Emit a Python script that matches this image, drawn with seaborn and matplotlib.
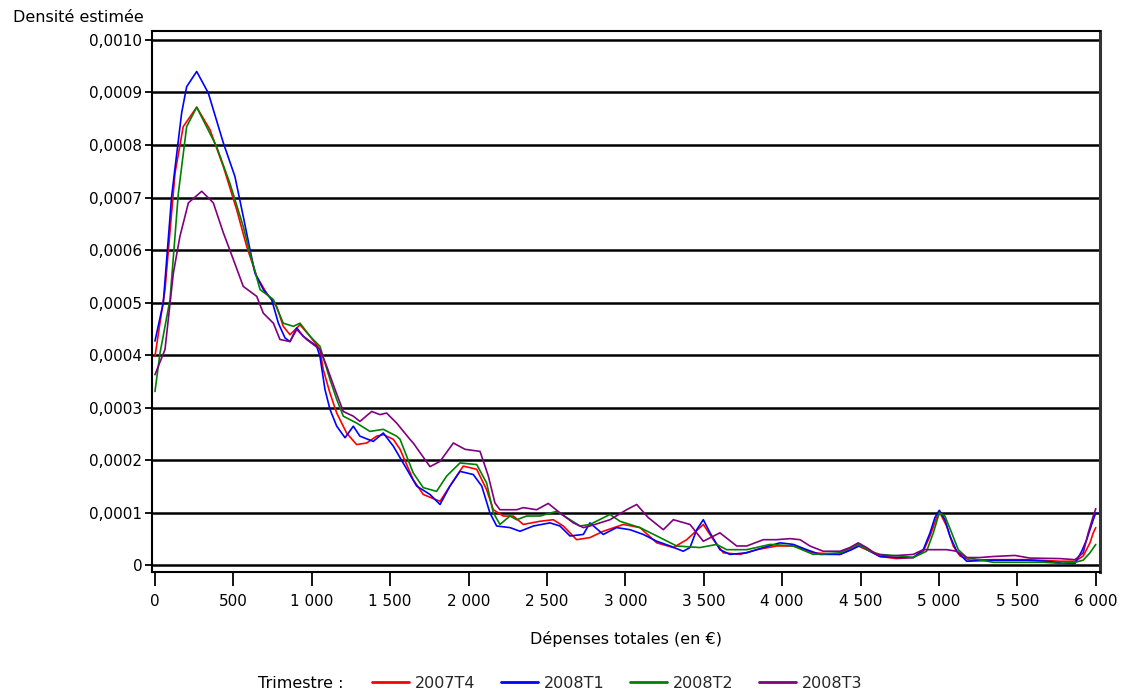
import matplotlib
matplotlib.use("Agg")
import matplotlib.pyplot as plt
from matplotlib.lines import Line2D
import numpy as np
import pandas as pd
import seaborn as sns

# Estimated density of total spending per quarter (density values in units of 1e-4 per euro)
x_2007T4 = [0, 64, 128, 180, 266, 351, 436, 521, 585, 649, 712, 776, 818, 861, 925, 989, 1052, 1073,
            1116, 1159, 1222, 1286, 1350, 1414, 1456, 1520, 1563, 1647, 1711, 1818, 1881, 1966, 2052,
            2115, 2158, 2221, 2285, 2349, 2455, 2540, 2604, 2689, 2774, 2859, 2987, 3093, 3200, 3306,
            3391, 3497, 3561, 3625, 3731, 3838, 3965, 4071, 4198, 4369, 4485, 4560, 4624, 4730, 4836,
            4900, 4943, 4985, 5006, 5049, 5091, 5134, 5198, 5347, 5559, 5772, 5868, 5920, 5963, 5984, 6000]
d_2007T4 = [3.98, 5.25, 7.47, 8.35, 8.72, 8.29, 7.59, 6.77, 6.07, 5.50, 5.18, 4.93, 4.55, 4.39, 4.58,
            4.36, 4.11, 3.73, 3.28, 2.90, 2.52, 2.30, 2.33, 2.46, 2.49, 2.40, 2.21, 1.63, 1.35, 1.22,
            1.51, 1.89, 1.83, 1.44, 1.06, 0.94, 0.94, 0.78, 0.84, 0.87, 0.75, 0.49, 0.53, 0.65, 0.78,
            0.72, 0.43, 0.34, 0.49, 0.78, 0.49, 0.24, 0.21, 0.30, 0.37, 0.37, 0.24, 0.21, 0.37, 0.27,
            0.17, 0.13, 0.15, 0.27, 0.56, 0.91, 1.00, 0.75, 0.37, 0.18, 0.10, 0.11, 0.11, 0.08, 0.08,
            0.18, 0.43, 0.62, 0.72]

x_2008T1 = [0, 53, 106, 170, 202, 266, 340, 436, 510, 563, 606, 638, 691, 744, 787, 829, 861, 904, 946,
            1031, 1052, 1084, 1116, 1159, 1212, 1265, 1307, 1392, 1456, 1520, 1563, 1669, 1754, 1818,
            1881, 1945, 2030, 2084, 2136, 2179, 2264, 2328, 2413, 2519, 2583, 2647, 2732, 2774, 2859,
            2944, 3029, 3114, 3200, 3285, 3369, 3412, 3455, 3497, 3540, 3603, 3667, 3774, 3880, 3986,
            4071, 4156, 4241, 4369, 4443, 4496, 4560, 4624, 4730, 4836, 4900, 4943, 4974, 5002, 5038,
            5070, 5113, 5177, 5347, 5559, 5687, 5793, 5868, 5910, 5942, 5963, 5984, 6000]
d_2008T1 = [4.27, 5.00, 7.02, 8.61, 9.11, 9.40, 8.99, 8.04, 7.40, 6.64, 6.01, 5.56, 5.25, 5.06, 4.61,
            4.33, 4.26, 4.52, 4.36, 4.17, 3.98, 3.35, 2.97, 2.65, 2.43, 2.65, 2.46, 2.36, 2.52, 2.27,
            2.05, 1.51, 1.35, 1.16, 1.51, 1.79, 1.73, 1.51, 1.00, 0.75, 0.72, 0.65, 0.75, 0.81, 0.75,
            0.56, 0.59, 0.81, 0.59, 0.72, 0.68, 0.59, 0.46, 0.37, 0.27, 0.34, 0.68, 0.87, 0.62, 0.30,
            0.21, 0.24, 0.34, 0.43, 0.40, 0.30, 0.21, 0.21, 0.30, 0.38, 0.27, 0.17, 0.15, 0.15, 0.30,
            0.62, 0.91, 1.05, 0.87, 0.56, 0.27, 0.08, 0.10, 0.10, 0.08, 0.04, 0.04, 0.27, 0.49, 0.68,
            0.87, 1.00]

x_2008T2 = [0, 32, 96, 149, 202, 266, 393, 478, 563, 606, 670, 755, 818, 882, 925, 989, 1052, 1116, 1159,
            1201, 1286, 1371, 1456, 1541, 1563, 1647, 1711, 1796, 1860, 1945, 2052, 2115, 2158, 2200,
            2264, 2307, 2370, 2455, 2562, 2647, 2711, 2774, 2902, 2966, 3093, 3221, 3327, 3476, 3582,
            3646, 3774, 3923, 4071, 4198, 4369, 4485, 4560, 4624, 4751, 4836, 4921, 4964, 5002, 5038,
            5081, 5123, 5177, 5347, 5665, 5772, 5868, 5920, 5963, 6000]
d_2008T2 = [3.31, 4.04, 5.06, 7.08, 8.35, 8.72, 7.97, 7.27, 6.45, 5.94, 5.25, 5.06, 4.61, 4.55, 4.61,
            4.36, 4.17, 3.54, 3.16, 2.84, 2.71, 2.55, 2.59, 2.46, 2.40, 1.76, 1.48, 1.41, 1.70, 1.95,
            1.92, 1.57, 1.00, 0.78, 0.94, 0.87, 0.94, 0.94, 1.03, 0.87, 0.75, 0.78, 0.97, 0.84, 0.72,
            0.53, 0.37, 0.34, 0.40, 0.30, 0.30, 0.40, 0.37, 0.21, 0.24, 0.40, 0.27, 0.21, 0.18, 0.15,
            0.27, 0.62, 1.00, 0.94, 0.62, 0.30, 0.15, 0.06, 0.06, 0.04, 0.06, 0.10, 0.24, 0.40]

x_2008T3 = [0, 64, 117, 159, 213, 298, 372, 436, 500, 563, 649, 691, 755, 797, 861, 904, 967, 1052, 1095,
            1148, 1201, 1265, 1307, 1382, 1435, 1477, 1541, 1626, 1647, 1754, 1818, 1903, 1977, 2073,
            2126, 2168, 2200, 2307, 2349, 2434, 2508, 2583, 2668, 2732, 2774, 2902, 3008, 3072, 3146,
            3242, 3306, 3412, 3497, 3603, 3710, 3774, 3880, 3965, 4050, 4114, 4177, 4262, 4369, 4432,
            4485, 4539, 4603, 4688, 4836, 4900, 5049, 5113, 5177, 5261, 5347, 5485, 5580, 5772, 5868,
            5920, 5952, 5984, 6000]
d_2008T3 = [3.63, 4.11, 5.56, 6.26, 6.90, 7.12, 6.90, 6.33, 5.82, 5.31, 5.12, 4.80, 4.61, 4.30, 4.26,
            4.49, 4.30, 4.11, 3.79, 3.35, 2.93, 2.84, 2.74, 2.93, 2.87, 2.90, 2.71, 2.40, 2.33, 1.88,
            1.98, 2.33, 2.21, 2.17, 1.70, 1.19, 1.06, 1.06, 1.10, 1.06, 1.18, 1.00, 0.81, 0.72, 0.75,
            0.87, 1.06, 1.16, 0.91, 0.68, 0.87, 0.78, 0.46, 0.62, 0.37, 0.37, 0.49, 0.49, 0.51, 0.49,
            0.37, 0.27, 0.27, 0.34, 0.43, 0.34, 0.21, 0.18, 0.21, 0.30, 0.30, 0.27, 0.15, 0.15, 0.17,
            0.19, 0.14, 0.13, 0.11, 0.24, 0.62, 0.94, 1.08]

quarters = ["2007T4", "2008T1", "2008T2", "2008T3"]
colors = ["#ff0000", "#0000ff", "#008000", "#800080"]

y_ticks = [0, 0.0001, 0.0002, 0.0003, 0.0004, 0.0005, 0.0006, 0.0007, 0.0008, 0.0009, 0.0010]
y_labels = ["0", "0,0001", "0,0002", "0,0003", "0,0004", "0,0005", "0,0006", "0,0007",
            "0,0008", "0,0009", "0,0010"]
x_ticks = [0, 500, 1000, 1500, 2000, 2500, 3000, 3500, 4000, 4500, 5000, 5500, 6000]
x_labels = ["0", "500", "1 000", "1 500", "2 000", "2 500", "3 000", "3 500", "4 000",
            "4 500", "5 000", "5 500", "6 000"]

UNIT = 1e-4
frames = []
for q, xs, ds in zip(quarters, [x_2007T4, x_2008T1, x_2008T2, x_2008T3],
                     [d_2007T4, d_2008T1, d_2008T2, d_2008T3]):
    frames.append(pd.DataFrame({"depense": xs, "densite": np.array(ds) * UNIT, "Trimestre": q}))
df = pd.concat(frames, ignore_index=True)

sns.set_theme(style="white")
plt.rcParams["font.family"] = ["DejaVu Sans"]
FS_TICK = 11
FS_TEXT = 11.5

W, H = 1121, 697
fig = plt.figure(figsize=(W / 100, H / 100), dpi=100)
ax = fig.add_axes([152 / W, 1 - 572 / H, (1100 - 152) / W, (572 - 31) / H])

sns.lineplot(data=df, x="depense", y="densite", hue="Trimestre", hue_order=quarters,
             palette=dict(zip(quarters, colors)), estimator=None, sort=True,
             linewidth=1.2, legend=False, ax=ax)

ax.set_xlim(-19, 6027)
ax.set_ylim(-0.0000125, 0.001017)
ax.set_yticks(y_ticks)
ax.set_yticklabels(y_labels)
ax.set_xticks(x_ticks)
ax.set_xticklabels(x_labels)
ax.set_xlabel("")
ax.set_ylabel("")

ax.yaxis.grid(True, color="black", linewidth=1.8)
ax.xaxis.grid(False)
ax.set_axisbelow(True)
for side in ["left", "right", "top", "bottom"]:
    ax.spines[side].set_visible(True)
    ax.spines[side].set_color("black")
    ax.spines[side].set_linewidth(1.5)
ax.spines["right"].set_linewidth(2.2)
ax.spines["right"].set_color("#333333")

ax.tick_params(axis="y", which="major", direction="out", left=True, length=5, width=1.3,
               color="black", pad=2, labelsize=FS_TICK, labelcolor="black")
ax.tick_params(axis="x", which="major", direction="out", bottom=True, length=10, width=1.3,
               color="black", pad=6, labelsize=FS_TICK, labelcolor="black")

fig.text(13 / W, 1 - 18 / H, "Densité estimée", ha="left", va="center", fontsize=FS_TEXT,
         color="black")
fig.text(626 / W, 1 - 639 / H, "Dépenses totales (en €)", ha="center", va="center",
         fontsize=FS_TEXT, color="black")

fig.text(258 / W, 1 - 683 / H, "Trimestre :", ha="left", va="center", fontsize=FS_TEXT,
         color="black")
handles = [Line2D([0], [0], color=c, linewidth=2) for c in colors]
fig.legend(handles, quarters, loc="center left", bbox_to_anchor=(372 / W, 1 - 683 / H),
           ncol=4, frameon=False, fontsize=FS_TEXT, handlelength=2.3, handletextpad=0.38,
           columnspacing=1.6, borderpad=0, borderaxespad=0)

fig.savefig("out.png", dpi=100, facecolor="white")
